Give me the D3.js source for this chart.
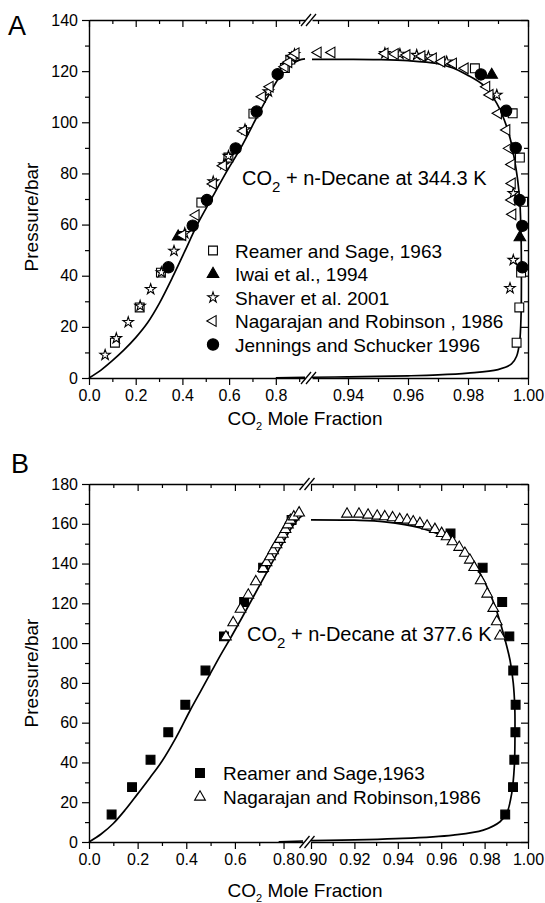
<!DOCTYPE html>
<html>
<head>
<meta charset="utf-8">
<script src="https://cdn.jsdelivr.net/npm/d3@7"></script>
<style>
  body { margin: 0; background: #fff; }
  svg { display: block; }
  text { font-family: "Liberation Sans", Arial, Helvetica, sans-serif; fill: #000; }
</style>
</head>
<body>
<svg id="fig" width="545" height="903"></svg>
<script>
// ---------- Panel A: CO2 + n-decane at 344.3 K (x = CO2 mole fraction, p in bar) ----------
const reamerA = [[0.111,13.8],[0.217,27.6],[0.308,41.2],[0.481,68.6],[0.597,86.2],[0.704,103.4],[0.839,121.2],[0.862,124.5],
                 [0.9962,13.8],[0.9971,27.6],[0.9977,41.2],[0.9984,68.9],[0.9973,86.2],[0.9949,103.5],[0.9823,121.1]];
const iwaiA = [[0.382,55.3],[0.9973,55.0],[0.9879,118.5]];
const shaverA = [[0.069,9.0],[0.117,15.5],[0.168,21.8],[0.219,28.2],[0.264,34.7],[0.31,41.3],[0.364,49.7],[0.41,56.6],
                 [0.532,76.8],[0.578,83.5],[0.597,86.8],[0.668,97.2],[0.768,112.0],[0.868,125.3],[0.88,126.6],
                 [0.9523,127.0],[0.9573,126.7],[0.9629,126.3],[0.9668,125.7],[0.9729,123.7],[0.9896,110.7],
                 [0.9951,72.2],[0.9951,46.1],[0.994,35.1]];
const nagarajanA = [[0.401,55.9],[0.458,63.7],[0.532,75.9],[0.575,83.0],[0.661,96.6],[0.742,110.0],[0.775,113.9],
                    [0.839,121.7],[0.855,123.5],[0.874,126.0],[0.886,127.0],
                    [0.930,127.3],[0.9346,127.3],[0.9523,126.9],[0.9557,126.7],[0.9596,126.3],[0.9646,125.9],
                    [0.9684,125.0],[0.9712,123.7],[0.9751,123.0],[0.979,121.1],[0.9862,113.9],[0.9873,110.7],
                    [0.9901,103.5],[0.9929,97.0],[0.9938,89.8],[0.9946,83.5],[0.9947,76.1],[0.9946,69.6],[0.9949,64.0]];
const jenningsA = [[0.34,43.3],[0.444,59.6],[0.505,69.6],[0.628,89.8],[0.718,104.2],[0.808,118.8],
                   [0.9981,43.3],[0.9981,59.5],[0.9972,69.6],[0.9959,90.0],[0.9927,104.5],[0.9843,118.7]];
// model: bubble branch (left segment) and dew branch (right segment, plus its low-pressure tail)
const modelA_bubble = [[0,0],[0.05,3],[0.1,6.8],[0.15,11],[0.2,15.8],[0.25,21.5],[0.3,29],[0.361,40],[0.41,49.5],
                       [0.461,59.5],[0.53,71],[0.59,80.8],[0.65,90],[0.73,104],[0.78,112.3],[0.818,118],
                       [0.86,122.3],[0.9,124.3],[0.925,124.8]];
const modelA_dew = [[0.928,124.6],[0.94,124.6],[0.95,124.5],[0.96,124.1],[0.9696,123],[0.975,121.2],[0.9796,118.6],
                    [0.9851,114.5],[0.9896,107.4],[0.9929,98.3],[0.9945,91.5],[0.9957,84],[0.9966,77],[0.9973,68.5],
                    [0.9977,55],[0.9978,40],[0.9977,25],[0.9972,14],[0.9962,8.5],[0.9945,5.5],[0.99,3.3],
                    [0.98,1.9],[0.97,1.2],[0.96,0.85],[0.94,0.45],[0.928,0.3]];
const modelA_dewTail = [[0.8,0.05],[0.925,0.25]];

// ---------- Panel B: CO2 + n-decane at 377.6 K ----------
const reamerB = [[0.093,13.8],[0.177,27.6],[0.253,41.4],[0.326,55.2],[0.396,69.0],[0.479,86.2],[0.555,103.4],
                 [0.638,120.7],[0.716,137.9],[0.833,161.9],
                 [0.9895,13.8],[0.9931,27.6],[0.9937,41.4],[0.9942,55.2],[0.9943,69.0],[0.9932,86.2],
                 [0.9914,103.4],[0.9881,120.7],[0.9791,137.9],[0.9643,155.1]];
const nagarajanB = [[0.563,103.2],[0.593,110.3],[0.623,117.1],[0.655,124.2],[0.686,130.9],[0.716,137.6],[0.73,140.5],
                    [0.744,143.5],[0.757,146.5],[0.771,149.5],[0.785,152.2],[0.797,154.8],[0.808,157.2],[0.818,159.5],
                    [0.828,161.8],[0.842,163.5],[0.864,165.5],
                    [0.9166,164.9],[0.9221,164.9],[0.9263,164.4],[0.9305,163.9],[0.934,163.6],[0.9376,163.1],
                    [0.9409,162.2],[0.9443,161.9],[0.9471,161.0],[0.9502,160.2],[0.9535,158.9],[0.9571,157.2],
                    [0.9602,155.2],[0.9625,153.5],[0.9652,151.0],[0.9683,148.2],[0.9709,145.2],[0.9732,141.8],
                    [0.9752,138.1],[0.9782,131.4],[0.9812,124.7],[0.984,117.5],[0.9856,110.8],[0.9871,103.6]];
const modelB_bubble = [[0,0],[0.05,4],[0.1,9.3],[0.15,16.3],[0.2,24.2],[0.25,32.2],[0.3,40.6],[0.36,53],[0.415,66],
                       [0.46,76],[0.505,86],[0.545,94.8],[0.585,103.2],[0.63,113],[0.68,124.2],[0.74,137.6],
                       [0.79,148.8],[0.83,157.5],[0.86,162.3],[0.88,164.4]];
const modelB_dew = [[0.90,162.0],[0.92,161.8],[0.934,161],[0.95,158],[0.964,152],[0.9732,143],[0.9794,132],
                    [0.9848,118.5],[0.9886,105],[0.9917,91.5],[0.9932,80],[0.9939,68],[0.994,55],[0.9937,38],
                    [0.9925,24.5],[0.9902,14.4],[0.9871,10.2],[0.9794,6],[0.9655,3.5],[0.9423,1.8],[0.90,0.65]];
const modelB_dewTail = [[0.78,0.1],[0.88,0.5]];

// ---------- axis tick values ----------
const yTicksA = [0,20,40,60,80,100,120,140], yMinorA = [10,30,50,70,90,110,130];
const yTicksB = [0,20,40,60,80,100,120,140,160,180], yMinorB = [10,30,50,70,90,110,130,150,170];
const xLeftTicks = [0,0.2,0.4,0.6,0.8];
const xLeftMinorA = [0.1,0.3,0.5,0.7,0.9], xLeftMinorB = [0.1,0.3,0.5,0.7];
const xRightTicksA = [0.94,0.96,0.98,1.00], xRightMinorA = [0.93,0.95,0.97,0.99];
const xRightTicksB = [0.90,0.92,0.94,0.96,0.98,1.00], xRightMinorB = [0.91,0.93,0.95,0.97,0.99];

const legendA = ["Reamer and Sage, 1963","Iwai et al., 1994","Shaver et al. 2001","Nagarajan and Robinson , 1986","Jennings and Schucker 1996"];
const legendB = ["Reamer and Sage,1963","Nagarajan and Robinson,1986"];

const svg = d3.select("#fig");

// marker shapes
const markers = {
  squareOpen:   { path: d3.symbol(d3.symbolSquare, 78)(),   fill: "#fff", rot: 0 },
  squareFilled: { path: d3.symbol(d3.symbolSquare, 78)(),   fill: "#000", rot: 0 },
  triUpFilled:  { path: d3.symbol(d3.symbolTriangle, 58)(), fill: "#000", rot: 0 },
  triUpOpen:    { path: d3.symbol(d3.symbolTriangle, 50)(), fill: "#fff", rot: 0 },
  triLeftOpen:  { path: d3.symbol(d3.symbolTriangle, 50)(), fill: "#fff", rot: -90 },
  starOpen:     { path: d3.symbol(d3.symbolStar, 34)(),     fill: "#fff", rot: 0 },
  circleFilled: { path: d3.symbol(d3.symbolCircle, 100)(),  fill: "#000", rot: 0 }
};

function drawMarker(g, type, cx, cy) {
  const m = markers[type];
  g.append("path")
    .attr("d", m.path)
    .attr("transform", `translate(${cx},${cy}) rotate(${m.rot})`)
    .attr("fill", m.fill)
    .attr("stroke", "#000")
    .attr("stroke-width", 1.1);
}

function subText(g, x, y, size, subSize, before, sub, after, anchor) {
  const t = g.append("text").attr("x", x).attr("y", y)
    .attr("font-size", size).attr("text-anchor", anchor || "start");
  t.append("tspan").text(before);
  t.append("tspan").attr("font-size", subSize).attr("dy", subSize * 0.45).text(sub);
  t.append("tspan").attr("dy", -subSize * 0.45).text(after);
  return t;
}

function drawPanel(p) {
  const g = svg.append("g");
  const y = d3.scaleLinear().domain([0, p.yMax]).range([p.bottom, p.top]);
  const xL = d3.scaleLinear().domain(p.xLdom).range([p.left, p.breakL]);
  const xR = d3.scaleLinear().domain(p.xRdom).range([p.breakR, p.right]);
  const px = v => (v <= p.xLdom[1] ? xL(v) : xR(v));

  const styleAxis = sel => {
    sel.selectAll("path.domain").attr("stroke", "#000").attr("stroke-width", 1.4);
    sel.selectAll(".tick line").attr("stroke", "#000").attr("stroke-width", 1.2);
    sel.selectAll(".tick text").attr("font-size", 16).attr("font-family", null).attr("fill", "#000");
  };
  const noLabels = sel => { sel.selectAll(".tick text").remove(); };
  const noDomain = sel => { sel.select("path.domain").remove(); };

  // model curves (drawn first so the axes sit on top)
  const lineL = d3.line().x(d => xL(d[0])).y(d => y(d[1])).curve(d3.curveCatmullRom.alpha(0.5));
  const lineR = d3.line().x(d => xR(d[0])).y(d => y(d[1])).curve(d3.curveCatmullRom.alpha(0.5));
  const curves = g.append("g").attr("fill", "none").attr("stroke", "#000").attr("stroke-width", 1.7);
  curves.append("path").attr("d", lineL(p.bubble));
  curves.append("path").attr("d", lineL(p.dewTail));
  curves.append("path").attr("d", lineR(p.dew));

  // bottom axis (ticks outward), two segments
  const bot = g.append("g").attr("transform", `translate(0,${p.bottom})`);
  bot.append("g").call(d3.axisBottom(xL).tickValues(xLeftTicks).tickFormat(d3.format(".1f"))
      .tickSizeInner(7).tickSizeOuter(0).tickPadding(5)).call(styleAxis);
  bot.append("g").call(d3.axisBottom(xL).tickValues(p.xLminor).tickFormat("").tickSize(4))
      .call(noDomain).call(styleAxis);
  bot.append("g").call(d3.axisBottom(xR).tickValues(p.xRticks).tickFormat(d3.format(".2f"))
      .tickSizeInner(7).tickSizeOuter(0).tickPadding(5)).call(styleAxis);
  bot.append("g").call(d3.axisBottom(xR).tickValues(p.xRminor).tickFormat("").tickSize(4))
      .call(noDomain).call(styleAxis);

  // top axis (ticks inward, no labels)
  const top = g.append("g").attr("transform", `translate(0,${p.top})`);
  top.append("g").call(d3.axisTop(xL).tickValues(xLeftTicks).tickSizeInner(-7).tickSizeOuter(0)).call(noLabels).call(styleAxis);
  top.append("g").call(d3.axisTop(xL).tickValues(p.xLminor).tickSize(-4)).call(noDomain).call(noLabels).call(styleAxis);
  top.append("g").call(d3.axisTop(xR).tickValues(p.xRticks).tickSizeInner(-7).tickSizeOuter(0)).call(noLabels).call(styleAxis);
  top.append("g").call(d3.axisTop(xR).tickValues(p.xRminor).tickSize(-4)).call(noDomain).call(noLabels).call(styleAxis);

  // left axis (outward, labelled) and right axis (inward)
  const left = g.append("g").attr("transform", `translate(${p.left},0)`);
  left.append("g").call(d3.axisLeft(y).tickValues(p.yTicks).tickFormat(d3.format("d"))
      .tickSizeInner(7).tickSizeOuter(0).tickPadding(4)).call(styleAxis);
  left.append("g").call(d3.axisLeft(y).tickValues(p.yMinor).tickFormat("").tickSize(4)).call(noDomain).call(styleAxis);
  const right = g.append("g").attr("transform", `translate(${p.right},0)`);
  right.append("g").call(d3.axisRight(y).tickValues(p.yTicks).tickSizeInner(-7).tickSizeOuter(0)).call(noLabels).call(styleAxis);
  right.append("g").call(d3.axisRight(y).tickValues(p.yMinor).tickSize(-4)).call(noDomain).call(noLabels).call(styleAxis);

  // axis-break marks "//" on bottom and top axes
  const bx = (p.breakL + p.breakR) / 2;
  [p.bottom, p.top].forEach(yy => {
    [-2.5, 2.5].forEach(off => {
      g.append("line")
        .attr("x1", bx + off - 5).attr("y1", yy + 6)
        .attr("x2", bx + off + 5).attr("y2", yy - 6)
        .attr("stroke", "#000").attr("stroke-width", 1.3);
    });
  });

  // experimental points
  const mg = g.append("g");
  p.series.forEach(s => s.data.forEach(d => drawMarker(mg, s.marker, px(d[0]), y(d[1]))));

  // legend
  p.series.forEach((s, i) => {
    const ly = p.legendRows[i];
    drawMarker(g, s.marker, p.legendSymX, ly);
    g.append("text").attr("x", p.legendTextX).attr("y", ly + 7).attr("font-size", 19).text(s.label);
  });

  // system annotation
  subText(g, p.noteX, p.noteY, 20, 15, "CO", "2", p.note);

  // axis titles
  g.append("text")
    .attr("transform", `translate(${p.yTitleX},${p.yTitleY}) rotate(-90)`)
    .attr("text-anchor", "middle").attr("font-size", 19).text("Pressure/bar");
  subText(g, 305, p.xTitleY, 19, 11, "CO", "2", " Mole Fraction", "middle");

  // panel letter
  g.append("text").attr("x", p.letterX).attr("y", p.letterY).attr("font-size", 27).text(p.letter);
}

drawPanel({
  letter: "A", letterX: 8, letterY: 35,
  left: 89, right: 528, top: 20, bottom: 378, breakL: 305, breakR: 312,
  xLdom: [0, 0.925], xRdom: [0.928, 1.0], yMax: 140,
  yTicks: yTicksA, yMinor: yMinorA, xLminor: xLeftMinorA, xRticks: xRightTicksA, xRminor: xRightMinorA,
  bubble: modelA_bubble, dew: modelA_dew, dewTail: modelA_dewTail,
  series: [
    { data: reamerA, marker: "squareOpen", label: legendA[0] },
    { data: iwaiA, marker: "triUpFilled", label: legendA[1] },
    { data: shaverA, marker: "starOpen", label: legendA[2] },
    { data: nagarajanA, marker: "triLeftOpen", label: legendA[3] },
    { data: jenningsA, marker: "circleFilled", label: legendA[4] }
  ],
  legendSymX: 213, legendTextX: 235, legendRows: [250.5, 274, 297.5, 321, 344.5],
  noteX: 242, noteY: 185, note: " + n-Decane at 344.3 K",
  yTitleX: 38, yTitleY: 217, xTitleY: 425
});

drawPanel({
  letter: "B", letterX: 11, letterY: 473,
  left: 89, right: 528, top: 484, bottom: 842, breakL: 303, breakR: 311,
  xLdom: [0, 0.88], xRdom: [0.90, 1.0], yMax: 180,
  yTicks: yTicksB, yMinor: yMinorB, xLminor: xLeftMinorB, xRticks: xRightTicksB, xRminor: xRightMinorB,
  bubble: modelB_bubble, dew: modelB_dew, dewTail: modelB_dewTail,
  series: [
    { data: reamerB, marker: "squareFilled", label: legendB[0] },
    { data: nagarajanB, marker: "triUpOpen", label: legendB[1] }
  ],
  legendSymX: 200, legendTextX: 223, legendRows: [773, 797],
  noteX: 247, noteY: 641, note: " + n-Decane at 377.6 K",
  yTitleX: 38, yTitleY: 673, xTitleY: 897
});
</script>
</body>
</html>
